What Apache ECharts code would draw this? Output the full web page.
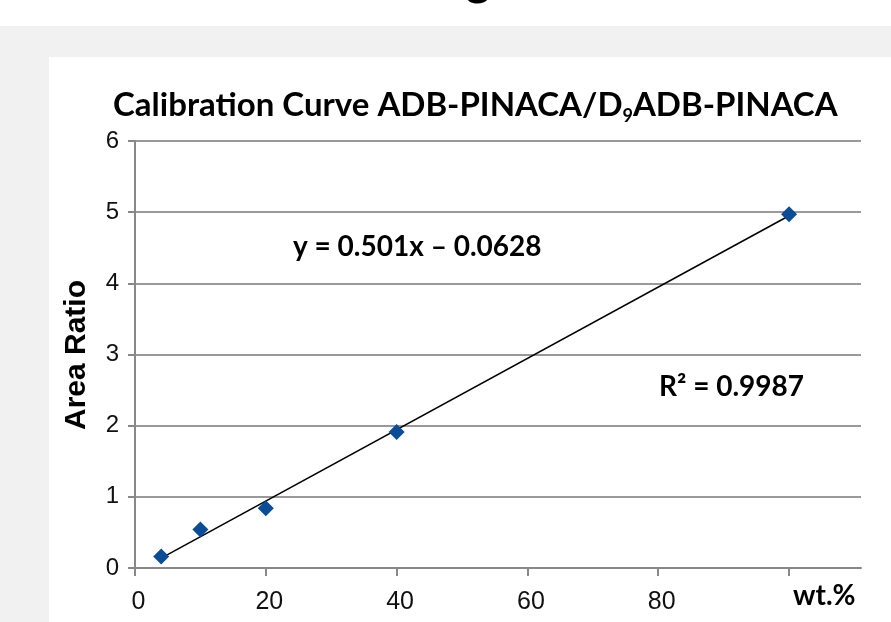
<!DOCTYPE html>
<html>
<head>
<meta charset="utf-8">
<script src="https://cdn.jsdelivr.net/npm/echarts@6/dist/echarts.min.js"></script>
<style>
html,body{margin:0;padding:0;background:#fff;}
#c{width:891px;height:622px;}
</style>
</head>
<body>
<div id="c"></div>
<script>
// Data
const wtPercent = [4, 10, 20, 40, 100];
const areaRatio = [0.16, 0.54, 0.84, 1.91, 4.97];
const trendX = [4, 100];
const trendY = [0.14, 4.95];
const xTickValues = [0, 20, 40, 60, 80, 100];
const xLabelValues = [0, 20, 40, 60, 80];
const equationText = 'y = 0.501x \u2013 0.0628';
const r2Text = 'R\u00b2 = 0.9987';
const xAxisTitle = 'wt.%';
const yAxisTitle = 'Area Ratio';

const chart = echarts.init(document.getElementById('c'), null, {renderer: 'canvas'});
const boldFont = 'Lato';
const option = {
  backgroundColor: '#ffffff',
  animation: false,
  title: {
    text: '{a|Calibration Curve ADB-PINACA/D}{s|9}{a|ADB-PINACA}',
    left: 108,
    top: 80,
    textStyle: {
      rich: {
        a: {fontFamily: boldFont, fontWeight: 'bold', fontSize: 33, color: '#000', lineHeight: 40},
        s: {fontFamily: boldFont, fontWeight: 'bold', fontSize: 18, color: '#000', lineHeight: 24, verticalAlign: 'bottom'}
      }
    }
  },
  grid: {left: 135, right: 30, top: 141, bottom: 54},
  xAxis: {
    type: 'value', min: 0, max: 111, interval: 20,
    axisLine: {show: true, lineStyle: {color: '#888', width: 2}},
    axisTick: {show: true, customValues: xTickValues, length: 8, lineStyle: {color: '#888', width: 2}},
    axisLabel: {customValues: xLabelValues, fontFamily: 'Liberation Sans', fontSize: 25, color: '#111', margin: 22, padding: [0, 0, 0, 7]},
    splitLine: {show: false}
  },
  yAxis: {
    type: 'value', min: 0, max: 6, interval: 1,
    axisLine: {show: true, lineStyle: {color: '#888', width: 2}},
    axisTick: {show: true, length: 7, lineStyle: {color: '#888', width: 2}},
    axisLabel: {fontFamily: 'Liberation Sans', fontSize: 24, color: '#111', margin: 16},
    splitLine: {show: true, lineStyle: {color: '#999', width: 2}}
  },
  graphic: [
    {type: 'rect', silent: true, z: -10, shape: {x: 0, y: 26, width: 891, height: 596}, style: {fill: '#f1f1f1'}},
    {type: 'rect', silent: true, z: -9, shape: {x: 49, y: 57, width: 842, height: 565}, style: {fill: '#ffffff'}},
    {type: 'text', silent: true, x: 466, y: -20, style: {text: 'g', font: 'bold 46px Lato', fill: '#000', align: 'left', verticalAlign: 'middle'}},
    {type: 'text', silent: true, x: 77, y: 355, rotation: Math.PI / 2,
      style: {text: yAxisTitle, font: 'bold 30px "Liberation Sans"', fill: '#000', align: 'center', verticalAlign: 'middle'}},
    {type: 'text', silent: true, x: 293, y: 247,
      style: {text: equationText, font: 'bold 28px Lato', fill: '#000', align: 'left', verticalAlign: 'middle'}},
    {type: 'text', silent: true, x: 659, y: 387,
      style: {text: r2Text, font: 'bold 28px Lato', fill: '#000', align: 'left', verticalAlign: 'middle'}},
    {type: 'text', silent: true, x: 793, y: 596,
      style: {text: xAxisTitle, font: 'bold 28px Lato', fill: '#000', align: 'left', verticalAlign: 'middle'}}
  ],
  series: [
    {
      type: 'line', data: trendX.map((x, i) => [x, trendY[i]]),
      symbol: 'none', lineStyle: {color: '#000', width: 1.5}, z: 2, silent: true
    },
    {
      type: 'scatter', data: wtPercent.map((x, i) => [x, areaRatio[i]]),
      symbol: 'diamond', symbolSize: 16, itemStyle: {color: '#0a4c96', opacity: 1}, z: 3
    }
  ]
};
chart.setOption(option);
</script>
</body>
</html>
